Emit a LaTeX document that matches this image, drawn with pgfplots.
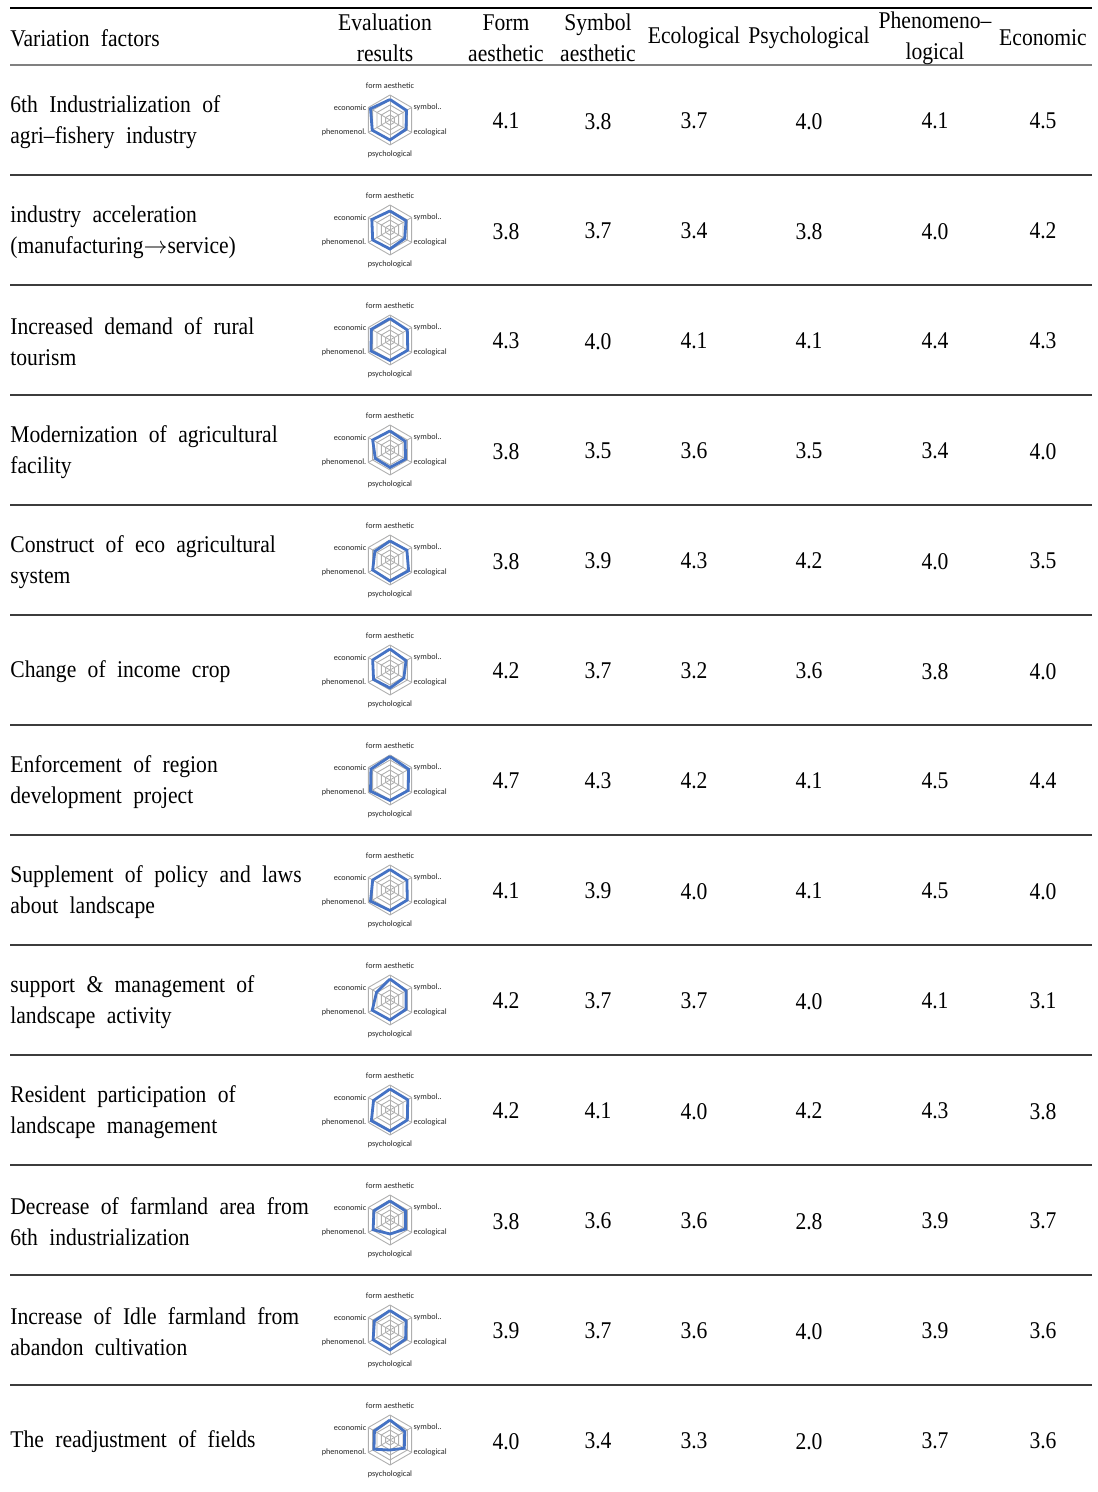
\documentclass[border=0pt]{standalone}
\usepackage{fontspec}
\setmainfont{Liberation Serif}[FakeStretch=0.9,WordSpace=2.1]
\newfontfamily\labfont{Carlito}
\usepackage{pgfplots}
\usepackage{pgfplotstable}
\usepgfplotslibrary{polar}
\pgfplotsset{compat=1.18}

\definecolor{xlblue}{RGB}{68,114,196}
\definecolor{ringgray}{RGB}{175,175,175}
\definecolor{rulegray}{RGB}{60,60,60}

% scores per factor (form, symbol, ecological, psychological, phenomenological, economic)
\pgfplotstableread{
row f   s   e   p   ph  ec
0   4.1 3.8 3.7 4.0 4.1 4.5
1   3.8 3.7 3.4 3.8 4.0 4.2
2   4.3 4.0 4.1 4.1 4.4 4.3
3   3.8 3.5 3.6 3.5 3.4 4.0
4   3.8 3.9 4.3 4.2 4.0 3.5
5   4.2 3.7 3.2 3.6 3.8 4.0
6   4.7 4.3 4.2 4.1 4.5 4.4
7   4.1 3.9 4.0 4.1 4.5 4.0
8   4.2 3.7 3.7 4.0 4.1 3.1
9   4.2 4.1 4.0 4.2 4.3 3.8
10  3.8 3.6 3.6 2.8 3.9 3.7
11  3.9 3.7 3.6 4.0 3.9 3.6
12  4.0 3.4 3.3 2.0 3.7 3.6
}\scores

\newcommand{\numcol}[2]{%
  \addplot[draw=none, mark=none, nodes near coords, point meta=explicit symbolic,
    nodes near coords align=center,
    every node near coord/.append style={font=\fontsize{12}{14}\selectfont, inner sep=0pt, yshift=-0.6pt}]
    table[x expr=#1, y expr={120+110*\thisrow{row}}, meta=#2] {\scores};}

\newcommand{\ring}[1]{%
  \addplot[ringgray, line width=0.45pt, mark=none]
    coordinates {(90,#1) (30,#1) (-30,#1) (-90,#1) (-150,#1) (150,#1) (90,#1)};}

\begin{document}
\begin{tikzpicture}
\useasboundingbox (0,0) rectangle (548.5pt,746pt);
\begin{axis}[
  width=548.5pt, height=746pt, scale only axis,
  xmin=0, xmax=1097, ymin=0, ymax=1492, y dir=reverse,
  hide axis, clip=false]

\numcol{506}{f}
\numcol{598}{s}
\numcol{694}{e}
\numcol{809}{p}
\numcol{935}{ph}
\numcol{1043}{ec}

% rules
\draw[line width=1.3pt] (axis cs:10,8) -- (axis cs:1092,8);
\draw[line width=1pt, gray] (axis cs:10,65) -- (axis cs:1092,65);
\pgfplotsinvokeforeach{175,285,395,505,615,725,835,945,1055,1165,1275,1385}{
  \draw[line width=0.6pt, rulegray] (axis cs:10,#1) -- (axis cs:1092,#1);
}

% header
\begin{scope}[every node/.style={font=\fontsize{12}{15.5}\selectfont, inner sep=0pt, align=center}]
\node[anchor=west] at (axis cs:10,38) {Variation factors};
\node at (axis cs:385,38) {Evaluation\\results};
\node at (axis cs:506,38) {Form\\aesthetic};
\node at (axis cs:598,38) {Symbol\\aesthetic};
\node at (axis cs:694,38) {Ecological};
\node at (axis cs:809,38) {Psychological};
\node at (axis cs:935,38) {Phenomeno--\\logical};
\node at (axis cs:1043,38) {Economic};
\end{scope}

% factors
\begin{scope}[every node/.style={font=\fontsize{12}{15.5}\selectfont, inner sep=0pt, align=left, anchor=west}]
\node at (axis cs:10,122) {6th Industrialization of\\agri--fishery industry};
\node at (axis cs:10,232) {industry acceleration\\(manufacturing$\rightarrow$service)};
\node at (axis cs:10,342) {Increased demand of rural\\tourism};
\node at (axis cs:10,452) {Modernization of agricultural\\facility};
\node at (axis cs:10,562) {Construct of eco agricultural\\system};
\node at (axis cs:10,672) {Change of income crop};
\node at (axis cs:10,782) {Enforcement of region\\development project};
\node at (axis cs:10,892) {Supplement of policy and laws\\about landscape};
\node at (axis cs:10,1002) {support \& management of\\landscape activity};
\node at (axis cs:10,1112) {Resident participation of\\landscape management};
\node at (axis cs:10,1222) {Decrease of farmland area from\\6th industrialization};
\node at (axis cs:10,1332) {Increase of Idle farmland from\\abandon cultivation};
\node at (axis cs:10,1442) {The readjustment of fields};
\end{scope}
\end{axis}

% small radar charts
\foreach \i in {0,...,12} {
  \pgfplotstablegetelem{\i}{f}\of\scores \let\va\pgfplotsretval
  \pgfplotstablegetelem{\i}{s}\of\scores \let\vb\pgfplotsretval
  \pgfplotstablegetelem{\i}{e}\of\scores \let\vc\pgfplotsretval
  \pgfplotstablegetelem{\i}{p}\of\scores \let\vd\pgfplotsretval
  \pgfplotstablegetelem{\i}{ph}\of\scores \let\ve\pgfplotsretval
  \pgfplotstablegetelem{\i}{ec}\of\scores \let\vf\pgfplotsretval
  \pgfmathsetmacro\ypt{(1492-120-110*\i)*0.5}
  \edef\radarplot{\noexpand\addplot[xlblue, line width=1.4pt, line join=miter, mark=none]
    coordinates {(90,\va) (30,\vb) (-30,\vc) (-90,\vd) (-150,\ve) (150,\vf) (90,\va)};}
  \begin{polaraxis}[
    at={(195pt,\ypt pt)}, anchor=origin,
    width=25pt, height=25pt, scale only axis,
    xmin=0, xmax=360, ymin=0, ymax=5,
    hide axis, clip=false]
    \ring{1}\ring{2}\ring{3}\ring{4}\ring{5}
    \addplot[ringgray, line width=0.4pt, mark=none] coordinates {(90,5) (270,5)};
    \addplot[ringgray, line width=0.4pt, mark=none] coordinates {(30,5) (210,5)};
    \addplot[ringgray, line width=0.4pt, mark=none] coordinates {(-30,5) (150,5)};
    \radarplot
    \begin{scope}[every node/.style={font=\labfont\fontsize{4.1}{4.3}\selectfont, text=black!85, inner sep=0.6pt}]
      \node at (axis cs:90,6.8) {form aesthetic};
      \node[anchor=west] at (axis cs:30,5.1) {symbol..};
      \node[anchor=west] at (axis cs:-30,5.1) {ecological};
      \node at (axis cs:-90,6.8) {psychological};
      \node[anchor=east] at (axis cs:210,5.1) {phenomenol.};
      \node[anchor=east] at (axis cs:150,5.1) {economic};
    \end{scope}
  \end{polaraxis}
}
\end{tikzpicture}
\end{document}
